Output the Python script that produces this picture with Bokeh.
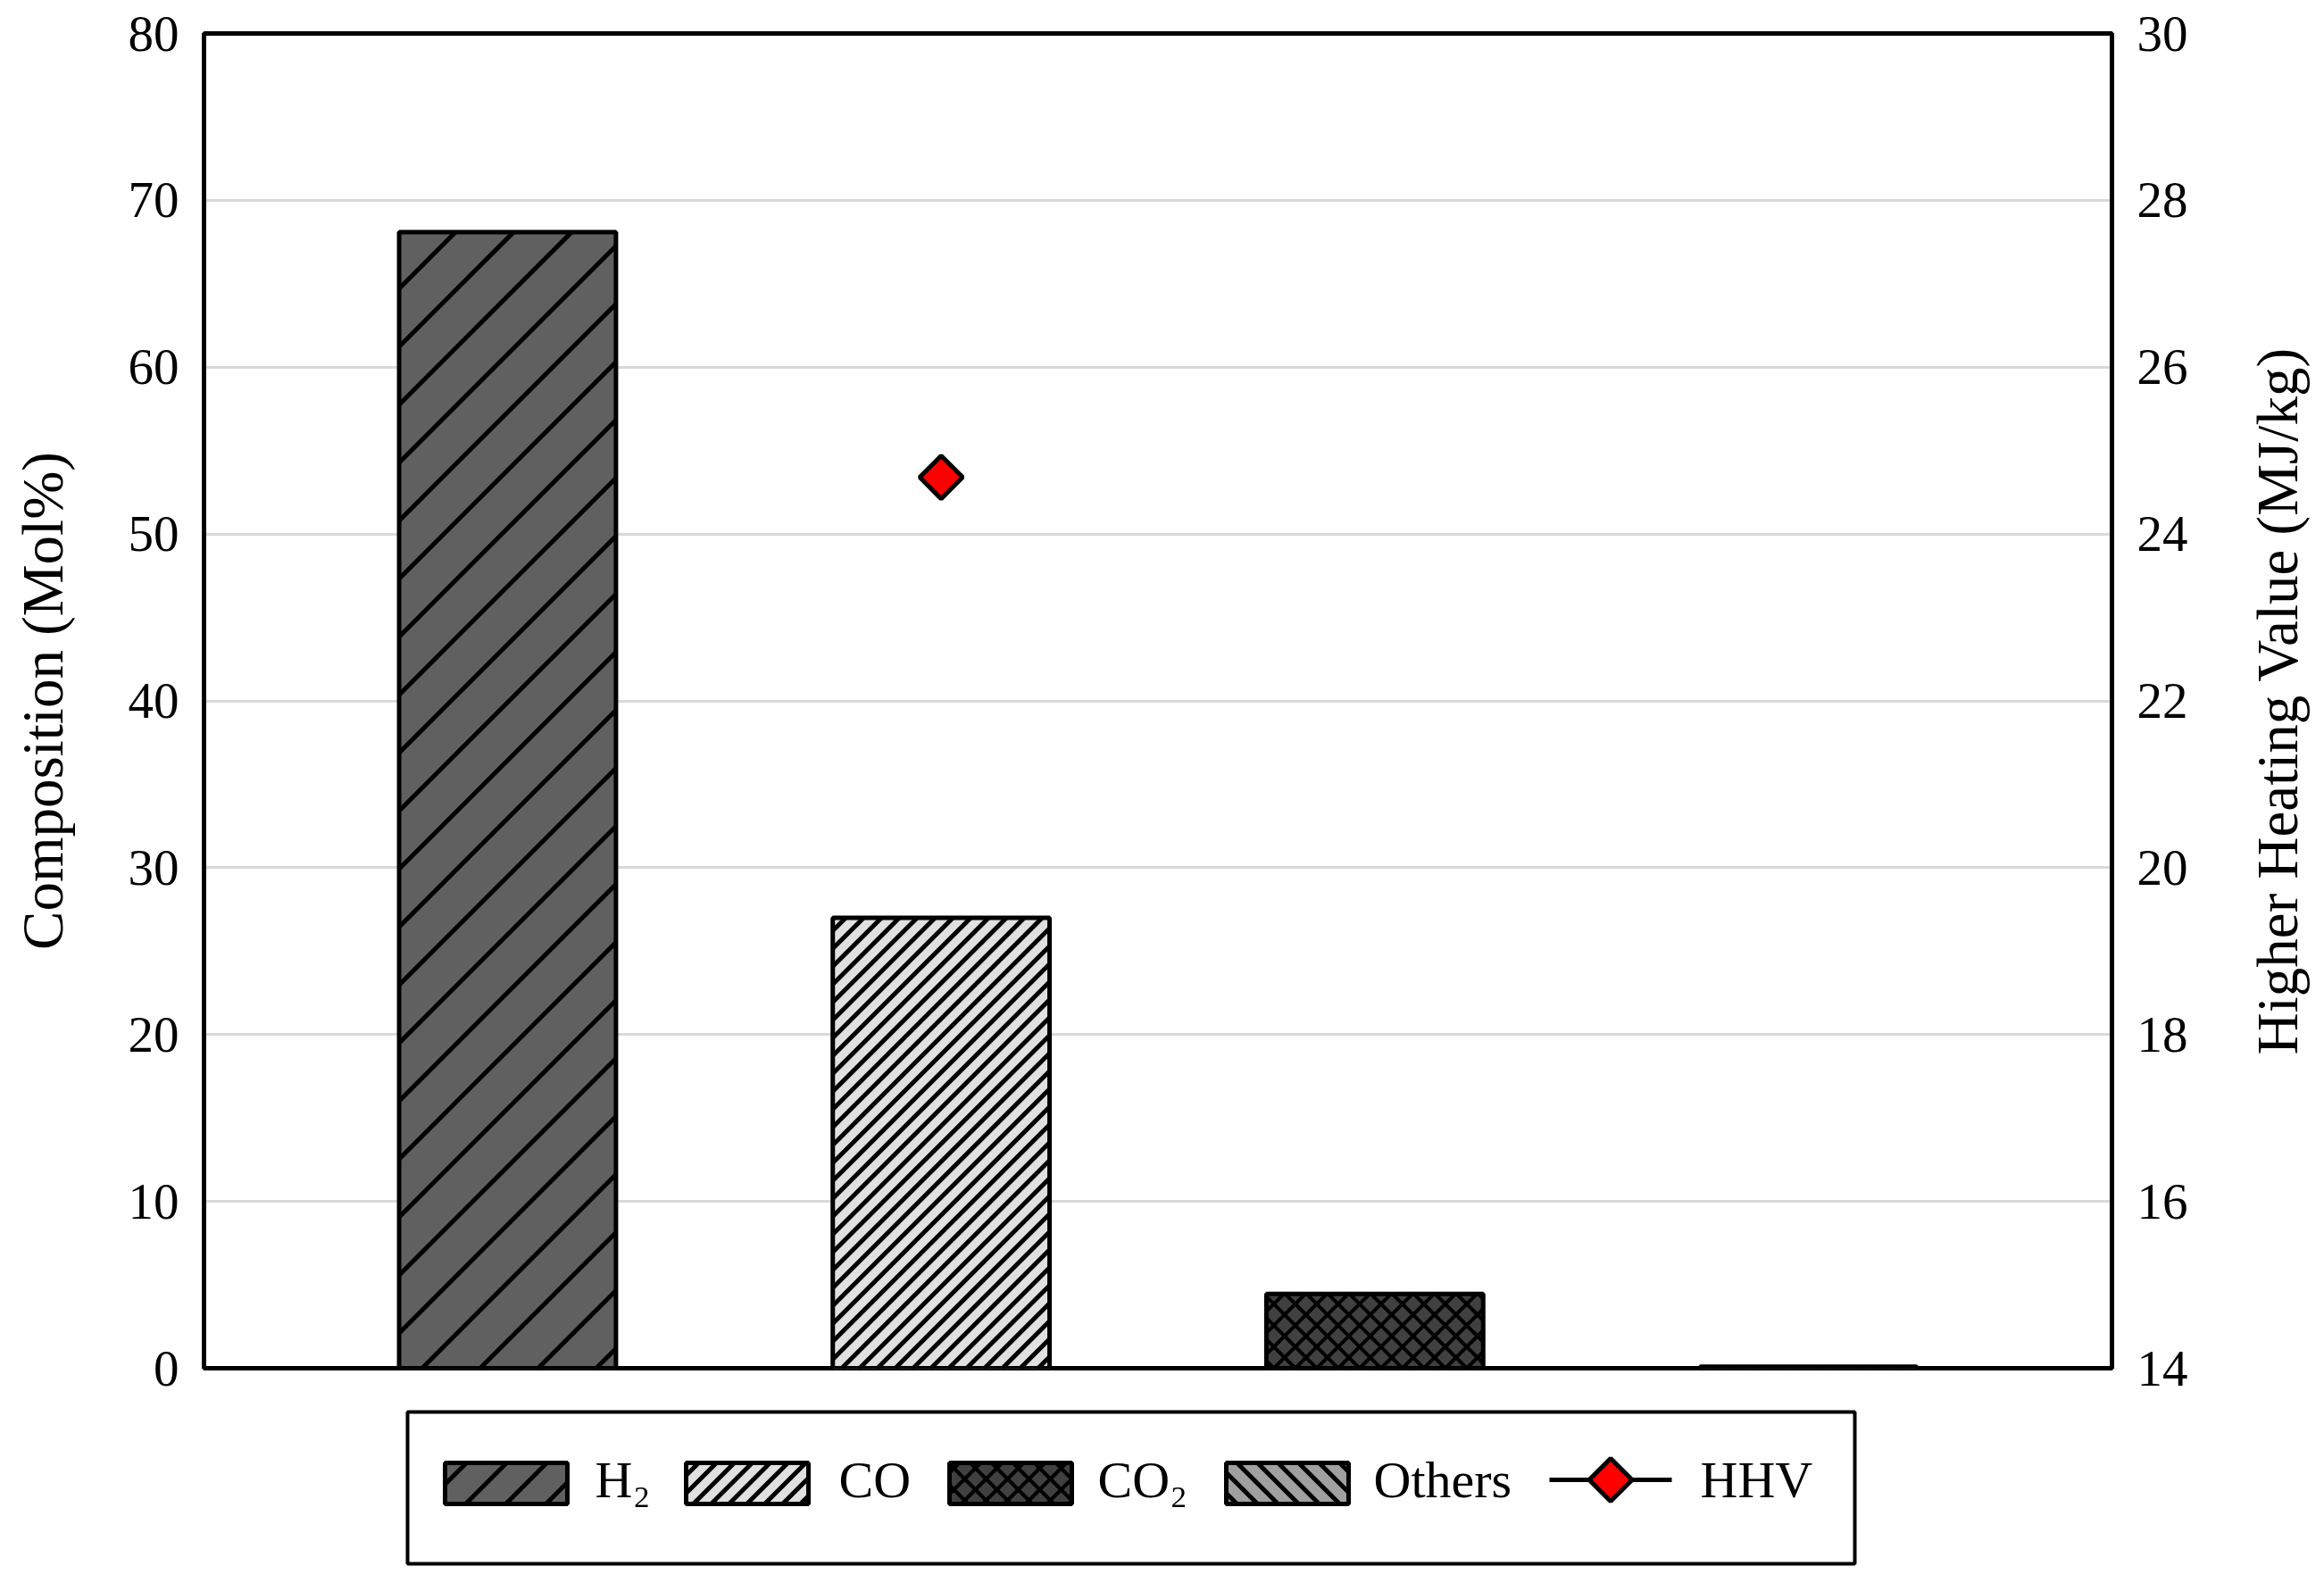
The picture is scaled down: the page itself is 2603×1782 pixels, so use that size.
import math
import numpy as np
from bokeh.plotting import figure
from bokeh.layouts import row, column
from bokeh.models import Range1d, LinearAxis, FixedTicker, ColumnDataSource
from bokeh.core.properties import value
from bokeh.embed import file_html
from bokeh.resources import INLINE

# ---------------- data ----------------
species = ["H₂", "CO", "CO₂", "Others"]
composition = [68.1, 27.0, 4.45, 0.1]          # Mol%
hhv_category = ["CO"]
hhv_value = [24.68]                            # MJ/kg
left_ticks = [0, 10, 20, 30, 40, 50, 60, 70, 80]
right_ticks = [14, 16, 18, 20, 22, 24, 26, 28, 30]
left_title = "Composition (Mol%)"
right_title = "Higher Heating Value (MJ/kg)"
legend_labels = species + ["HHV"]

# ---------------- styles ----------------
FONT = "Liberation Serif"
fills = ["#606060", "#e0e0e0", "#404040", "#a0a0a0"]
hatch_dirs = ["/", "/", "x", "\\"]
hatch_period = [65, 20, 24, 23]          # horizontal spacing in px
legend_hatch_period = [45, 20, 24, 23]
hatch_width = [5, 5, 4, 5]
MARKER_SIZE = 34

# ---------------- layout (px) ----------------
W_TOTAL, H_TOTAL = 2603, 1782
MAIN_W, MAIN_H = 2483, 1575
BL, BR, BT, BB = 228, 118, 37, 43
FRAME_W, FRAME_H = MAIN_W - BL - BR, MAIN_H - BT - BB
LEG_H = H_TOTAL - MAIN_H
LEG_BOX = (456, 2077, 1581, 1751)              # left, right, top, bottom (page px)
SW_LEFT = [498, 768, 1063, 1373]
SW_W, SW_TOP, SW_BOT = 137, 1638, 1684
HHV_LINE_X = (1735, 1872)
LEG_MID_Y = 1657
LABEL_X = [666, 939, 1229, 1538, 1904]
LABEL_BASE_Y = 1657


def hatch_segments(xl, xr, yb, yt, kx, ky, period, direction):
    """Diagonal hatch lines (45 deg on screen) clipped to a rectangle."""
    Xl, Xr = sorted((xl * kx, xr * kx))
    Yb, Yt = sorted((yb * ky, yt * ky))
    out = ([], [], [], [])
    dirs = ["/", "\\"] if direction == "x" else [direction]
    for d in dirs:
        if d == "/":      # Y = X + c
            cs = np.arange(math.floor((Yb - Xr) / period), math.ceil((Yt - Xl) / period) + 1) * period
            for c in cs:
                X0, X1 = max(Xl, Yb - c), min(Xr, Yt - c)
                if X1 > X0:
                    out[0].append(X0 / kx); out[1].append((X0 + c) / ky)
                    out[2].append(X1 / kx); out[3].append((X1 + c) / ky)
        else:             # Y = -X + c
            cs = np.arange(math.floor((Yb + Xl) / period), math.ceil((Yt + Xr) / period) + 1) * period
            for c in cs:
                X0, X1 = max(Xl, c - Yt), min(Xr, c - Yb)
                if X1 > X0:
                    out[0].append(X0 / kx); out[1].append((c - X0) / ky)
                    out[2].append(X1 / kx); out[3].append((c - X1) / ky)
    return out


positions = list(range(1, len(species) + 1))
BAR_W = 0.5
x_lo, x_hi = 0.3, len(species) + 0.7

# ================= main chart =================
p = figure(width=MAIN_W, height=MAIN_H, output_backend="svg", toolbar_location=None,
           x_range=Range1d(x_lo, x_hi),
           y_range=Range1d(left_ticks[0], left_ticks[-1]),
           min_border_left=BL, min_border_right=BR,
           min_border_top=BT, min_border_bottom=BB)
p.extra_y_ranges = {"hhv": Range1d(right_ticks[0], right_ticks[-1])}
p.outline_line_color = "black"
p.outline_line_width = 5
p.background_fill_color = "white"
p.border_fill_color = "white"

p.xaxis.visible = False
p.xgrid.visible = False
p.ygrid.ticker = FixedTicker(ticks=left_ticks)
p.ygrid.grid_line_color = "#d9d9d9"
p.ygrid.grid_line_width = 3

kx = FRAME_W / (x_hi - x_lo)
ky = FRAME_H / (left_ticks[-1] - left_ticks[0])
for i in range(len(species)):
    src = ColumnDataSource(dict(x=[positions[i]], top=[composition[i]]))
    p.vbar(x="x", top="top", bottom=0, width=BAR_W, source=src,
           fill_color=fills[i], line_color=None)
    x0, y0, x1, y1 = hatch_segments(positions[i] - BAR_W / 2, positions[i] + BAR_W / 2,
                                    0, composition[i], kx, ky, hatch_period[i], hatch_dirs[i])
    p.segment(x0=x0, y0=y0, x1=x1, y1=y1, line_color="black", line_width=hatch_width[i])
    p.vbar(x="x", top="top", bottom=0, width=BAR_W, source=src,
           fill_color=None, line_color="black", line_width=5)

hhv_x = [positions[species.index(c)] for c in hhv_category]
hsrc = ColumnDataSource(dict(x=hhv_x, y=hhv_value))
p.scatter(x="x", y="y", source=hsrc, marker="square", angle=math.pi / 4,
          size=MARKER_SIZE, fill_color="red", line_color="black", line_width=5,
          y_range_name="hhv")

yax = p.yaxis[0]
yax.ticker = FixedTicker(ticks=left_ticks)
yax.axis_label = left_title
rax = LinearAxis(y_range_name="hhv", ticker=FixedTicker(ticks=right_ticks))
p.add_layout(rax, "right")
for ax in (yax, rax):
    ax.axis_line_color = "black"
    ax.axis_line_width = 5
    ax.major_tick_in = 0
    ax.major_tick_out = 0
    ax.minor_tick_in = 0
    ax.minor_tick_out = 0
    ax.major_label_text_font = FONT
    ax.major_label_text_font_size = "57px"
    ax.major_label_text_color = "black"
    ax.major_label_standoff = 28
    ax.axis_label_text_font = FONT
    ax.axis_label_text_font_size = "65px"
    ax.axis_label_text_font_style = "normal"
    ax.axis_label_text_color = "black"
yax.axis_label_standoff = 57

# ================= right title strip =================
t = figure(width=W_TOTAL - MAIN_W, height=MAIN_H, output_backend="svg", toolbar_location=None,
           x_range=Range1d(0, 1), y_range=Range1d(0, 1),
           min_border_left=103, min_border_right=0, min_border_top=BT, min_border_bottom=BB)
t.xaxis.visible = False
t.grid.visible = False
t.outline_line_color = None
t.background_fill_color = "white"
t.border_fill_color = "white"
tax = t.yaxis[0]
tax.ticker = FixedTicker(ticks=[])
tax.axis_line_color = None
tax.major_tick_in = 0
tax.major_tick_out = 0
tax.minor_tick_in = 0
tax.minor_tick_out = 0
tax.axis_label = right_title
tax.axis_label_standoff = 0
tax.axis_label_text_font = FONT
tax.axis_label_text_font_size = "65px"
tax.axis_label_text_font_style = "normal"
tax.axis_label_text_color = "black"

# ================= legend strip =================
lg = figure(width=W_TOTAL, height=LEG_H, output_backend="svg", toolbar_location=None,
            x_range=Range1d(0, W_TOTAL), y_range=Range1d(H_TOTAL, MAIN_H), min_border=0)
lg.axis.visible = False
lg.grid.visible = False
lg.outline_line_color = None
lg.background_fill_color = "white"
lg.border_fill_color = "white"

lg.quad(left=[LEG_BOX[0]], right=[LEG_BOX[1]], top=[LEG_BOX[2]], bottom=[LEG_BOX[3]],
        fill_color="white", line_color="black", line_width=4)
for i in range(len(species)):
    l, r = SW_LEFT[i], SW_LEFT[i] + SW_W
    lg.quad(left=[l], right=[r], top=[SW_TOP], bottom=[SW_BOT],
            fill_color=fills[i], line_color=None)
    x0, y0, x1, y1 = hatch_segments(l, r, SW_BOT, SW_TOP, 1.0, -1.0,
                                    legend_hatch_period[i], hatch_dirs[i])
    lg.segment(x0=x0, y0=y0, x1=x1, y1=y1, line_color="black", line_width=hatch_width[i])
    lg.quad(left=[l], right=[r], top=[SW_TOP], bottom=[SW_BOT],
            fill_color=None, line_color="black", line_width=5)
lg.line(x=list(HHV_LINE_X), y=[LEG_MID_Y, LEG_MID_Y], line_color="black", line_width=5)
lg.scatter(x=[sum(HHV_LINE_X) / 2], y=[LEG_MID_Y], marker="square", angle=math.pi / 4,
           size=MARKER_SIZE, fill_color="red", line_color="black", line_width=5)
lg.text(x=LABEL_X, y=[LABEL_BASE_Y] * len(legend_labels), text=legend_labels,
        text_font=value(FONT), text_font_size=value("58px"), text_color="black",
        text_align="left", text_baseline="alphabetic")

layout = column(row(p, t, spacing=0), lg, spacing=0)
open("out.html", "w").write(file_html(layout, INLINE))
